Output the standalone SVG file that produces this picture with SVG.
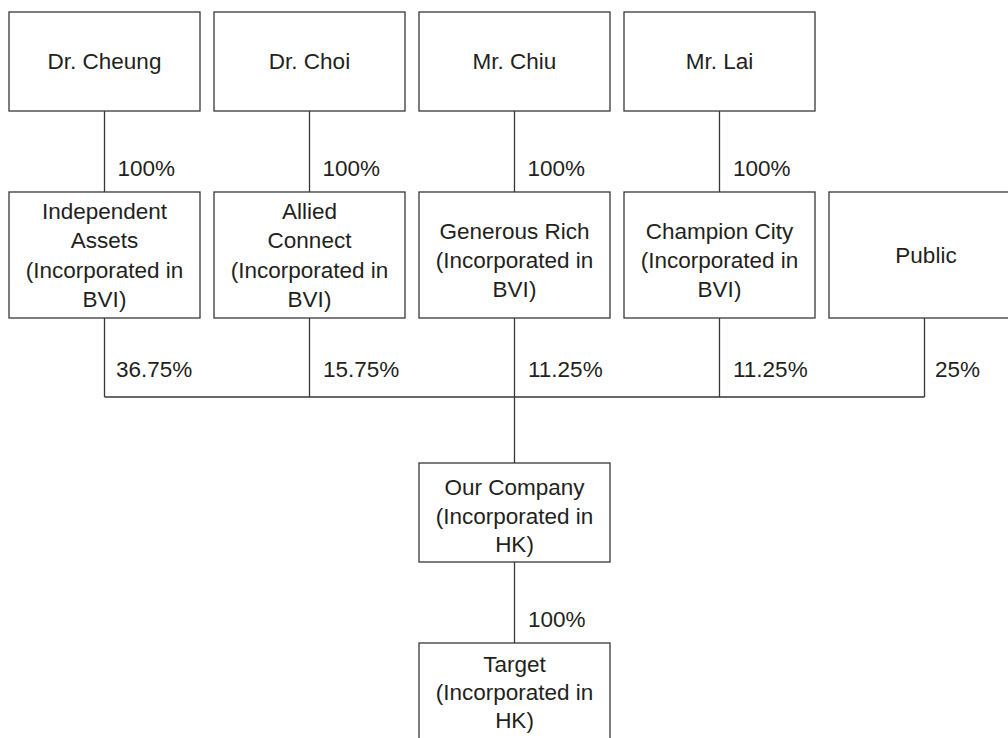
<svg xmlns="http://www.w3.org/2000/svg" width="1008" height="738" viewBox="0 0 1008 738">
<style>
.box{fill:#fff;stroke:#3a3636;stroke-width:1.3}
.ln{fill:none;stroke:#3a3636;stroke-width:1.3}
text{font-family:"Liberation Sans",Arial,sans-serif;font-size:22.5px;fill:#231f20}
.c{text-anchor:middle}
</style>
<rect width="1008" height="738" fill="#fff"/>
<g id="connectors">
<path class="ln" d="M104.5 111V192M309.5 111V192M514.5 111V192M719.5 111V192"/>
<path class="ln" d="M104.5 318V397M309.5 318V397M514.5 318V463M719.5 318V397M924.5 318V397M104.5 397H924.5"/>
<path class="ln" d="M514.5 562V643"/>
<text x="117.5" y="176">100%</text>
<text x="322.5" y="176">100%</text>
<text x="527.5" y="176">100%</text>
<text x="733" y="176">100%</text>
<text x="116" y="377">36.75%</text>
<text x="323" y="377">15.75%</text>
<text x="528" y="377">11.25%</text>
<text x="733" y="377">11.25%</text>
<text x="935" y="377">25%</text>
<text x="528" y="627">100%</text>
</g>
<g id="dr-cheung"><rect class="box" x="9" y="12" width="191" height="99"/><text class="c" x="104.5" y="69">Dr. Cheung</text></g>
<g id="dr-choi"><rect class="box" x="214" y="12" width="191" height="99"/><text class="c" x="309.5" y="69">Dr. Choi</text></g>
<g id="mr-chiu"><rect class="box" x="419" y="12" width="191" height="99"/><text class="c" x="514.5" y="69">Mr. Chiu</text></g>
<g id="mr-lai"><rect class="box" x="624" y="12" width="191" height="99"/><text class="c" x="719.5" y="69">Mr. Lai</text></g>
<g id="independent-assets"><rect class="box" x="9" y="192" width="191" height="126"/>
<text class="c" x="104.5" y="219">Independent</text><text class="c" x="104.5" y="248">Assets</text><text class="c" x="104.5" y="278">(Incorporated in</text><text class="c" x="104.5" y="307">BVI)</text></g>
<g id="allied-connect"><rect class="box" x="214" y="192" width="191" height="126"/>
<text class="c" x="309.5" y="219">Allied</text><text class="c" x="309.5" y="248">Connect</text><text class="c" x="309.5" y="278">(Incorporated in</text><text class="c" x="309.5" y="307">BVI)</text></g>
<g id="generous-rich"><rect class="box" x="419" y="192" width="191" height="126"/>
<text class="c" x="514.5" y="239">Generous Rich</text><text class="c" x="514.5" y="268">(Incorporated in</text><text class="c" x="514.5" y="297">BVI)</text></g>
<g id="champion-city"><rect class="box" x="624" y="192" width="191" height="126"/>
<text class="c" x="719.5" y="239">Champion City</text><text class="c" x="719.5" y="268">(Incorporated in</text><text class="c" x="719.5" y="297">BVI)</text></g>
<g id="public"><rect class="box" x="829" y="192" width="200" height="126"/><text class="c" x="926" y="263">Public</text></g>
<g id="our-company"><rect class="box" x="419" y="463" width="191" height="99"/>
<text class="c" x="514.5" y="495">Our Company</text><text class="c" x="514.5" y="524">(Incorporated in</text><text class="c" x="514.5" y="552">HK)</text></g>
<g id="target"><rect class="box" x="419" y="643" width="191" height="120"/>
<text class="c" x="514.5" y="672">Target</text><text class="c" x="514.5" y="700">(Incorporated in</text><text class="c" x="514.5" y="728">HK)</text></g>
</svg>
